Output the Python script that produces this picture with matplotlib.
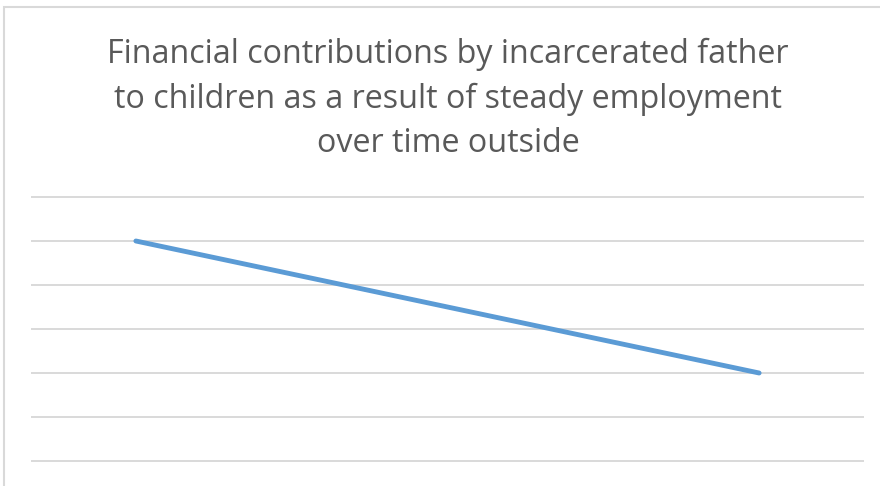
import matplotlib
matplotlib.use("Agg")
import matplotlib.pyplot as plt
from matplotlib.patches import Rectangle

categories = ["1", "2", "3", "4"]
values = [5, 4, 3, 2]
gridlines = [0, 1, 2, 3, 4, 5, 6]
title_lines = ["Financial contributions by incarcerated father",
               "to children as a result of steady employment",
               "over time outside"]

W, H = 880, 486
fig = plt.figure(figsize=(W / 100, H / 100), dpi=100)
fig.patch.set_facecolor("white")

# chart border
fig.add_artist(Rectangle((3.5 / W, -0.1), 1.2, 1 - 6.5 / H + 0.1,
                         transform=fig.transFigure, fill=False,
                         edgecolor="#D9D9D9", linewidth=1.5))

ax = fig.add_axes([32 / W, 1 - 461 / H, (863 - 32) / W, (461 - 197) / H])
x = list(range(len(categories)))
ax.plot(x, values, color="#5B9BD5", linewidth=3.5, solid_capstyle="round")
ax.set_xlim(-0.5, len(categories) - 0.5)
ax.set_ylim(gridlines[0], gridlines[-1])
for g in gridlines:
    ax.axhline(g, color="#D9D9D9", linewidth=1.4, zorder=0, clip_on=False)
ax.set_xticks([])
ax.set_yticks([])
for s in ax.spines.values():
    s.set_visible(False)
ax.patch.set_alpha(0)

ys = [54, 99, 143]
for t, y in zip(title_lines, ys):
    fig.text(448 / W, 1 - y / H, t, ha="center", va="center",
             fontsize=23.2, color="#595959", family="Open Sans")

fig.savefig("out.png", dpi=100)
